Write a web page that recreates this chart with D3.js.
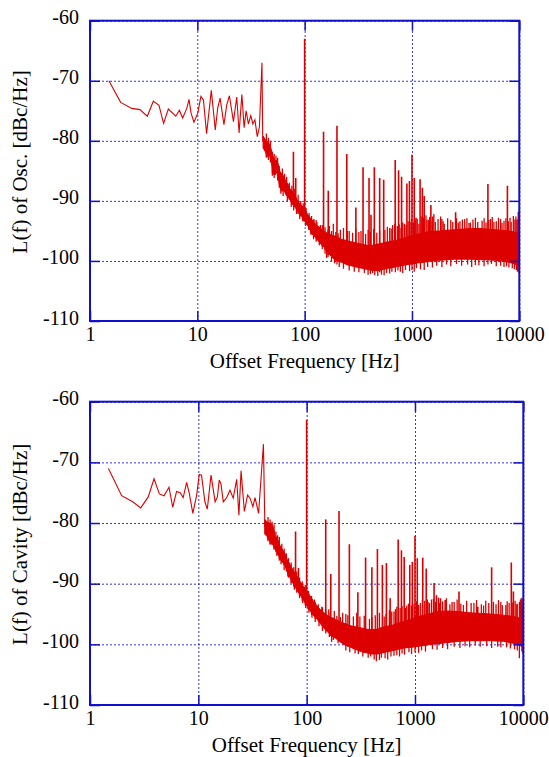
<!DOCTYPE html>
<html>
<head>
<meta charset="utf-8">
<script src="https://cdn.jsdelivr.net/npm/d3@7"></script>
<style>
  body { margin: 0; background: #fff; }
  text { font-family: "Liberation Serif", "Times New Roman", serif; fill: #000; }
</style>
</head>
<body>
<svg id="chart" width="549" height="757"></svg>
<script>
// axis ticks
var xTicks = [1, 10, 100, 1000, 10000];
var yTicks = [-110, -100, -90, -80, -70, -60];

// ---- oscillator panel ----
// low offset part, read point by point
var oscLowFreq = [1.5, 1.93, 2.45, 2.92, 3.42, 3.89, 4.39, 4.85, 5.37, 6.3, 6.8, 7.3, 7.97, 8.37, 8.74, 9.3,
    10.1, 10.8, 11.4, 12.2, 13.5, 14.7, 15.5, 16.3, 17.7, 18.8, 19.9, 21.7, 23.3, 24.5, 26, 27.3, 28.5,
    29.9, 31.5, 32.9, 34.4, 36.2, 37.9, 40, 40.7];
var oscLowLevel = [-70, -73.6, -74.6, -74.8, -75.9, -73.4, -74.1, -77.1, -74.7, -75.9, -74.9, -76.2, -74.6, -73.1, -75.4, -76.9,
    -75.4, -72.6, -73.2, -78.8, -71.6, -78.2, -74.5, -72.9, -77.3, -74, -72.5, -76.8, -72.7, -78.7, -72.3, -77.8, -75,
    -77.2, -75.8, -77.2, -76.5, -79.3, -77.7, -67, -79.8];
// noise floor: [freq, upper, lower]
var oscBand = [
    [41, -79.2, -81.2], [43, -79.8, -81.8], [45, -80.2, -82.6], [47, -80.5, -82.4], [49, -81.5, -83.6],
    [51, -82.7, -85.4], [53, -83.4, -85.7], [55, -83.2, -85.2], [57, -84, -86.5], [59, -85.2, -87.8],
    [61, -85.4, -88.4], [64, -86, -88.2], [67, -86.8, -89], [70, -87.2, -89.4], [73, -88, -89.8],
    [77, -88.4, -90.6], [81, -89, -91], [85, -89.8, -91.6], [89, -90.3, -92.2], [94, -90.8, -92.6],
    [100, -91.3, -93.4], [106, -92.2, -94], [112, -92.8, -94.8], [118, -93.2, -95.6], [125, -93.8, -96],
    [133, -94.2, -96.6], [141, -94.6, -97.2], [150, -95, -97.6], [160, -95.3, -98.2], [172, -95.6, -99],
    [185, -95.8, -99.6], [200, -96, -100], [220, -96.4, -100.2], [245, -96.6, -100.6], [270, -96.8, -100.8],
    [300, -97, -101], [340, -97.2, -101.2], [380, -97.4, -101.4], [430, -97.4, -101.6], [480, -97.2, -101.6],
    [540, -97, -101.4], [610, -96.8, -101.2], [700, -96.6, -101], [800, -96.3, -100.8], [900, -96, -100.6],
    [1000, -95.8, -100.5], [1150, -95.5, -100.3], [1300, -95.3, -100.2], [1500, -95.1, -100], [1800, -95, -99.9],
    [2100, -94.9, -99.8], [2500, -94.8, -99.7], [3000, -94.7, -99.7], [3600, -94.6, -99.7], [4300, -94.6, -99.8],
    [5000, -94.7, -99.8], [6000, -94.8, -99.9], [7000, -94.9, -100], [8000, -95, -100.2], [9000, -95.2, -100.5],
    [10000, -95.4, -100.8]
];
// spurs: [freq, peak]
var oscSpurs = [
    [78.6, -81.8], [82.6, -86.2], [100, -63], [150, -78.5], [166, -88.3], [200, -77.5], [247, -82.2],
    [300, -91.1], [350, -84.4], [398, -86.2], [415, -92.3], [446, -84.4], [500, -86.2], [545, -86.5],
    [698, -83.2], [750, -84.9], [800, -86], [897, -87.1], [947, -86.7], [1000, -82.3], [1050, -86.2],
    [1090, -92.8], [1190, -86.4], [1250, -87.8], [1300, -89.2], [1500, -90.7], [1560, -92.6], [2550, -91.9],
    [5100, -87.2], [7750, -87.5], [9800, -91.8]
];
// short noise spikes above the floor
var oscGrass = [
    [44, -78.8], [46, -79.5], [48, -80], [50, -81.8], [52, -82.2], [54, -82.5], [56, -82.8], [58, -84.2],
    [62, -84.6], [65, -85.5], [68, -86], [72, -87], [76, -87.5], [80, -88], [87, -89], [92, -90], [97, -90.4],
    [103, -91.2], [110, -92], [116, -92.5], [122, -93], [128, -93.2], [130, -93.5], [140, -94], [146, -94],
    [155, -94.4], [165, -94.8], [170, -94.2], [178, -95], [185, -93.8], [195, -95.2], [205, -95.4],
    [215, -94.8], [230, -94.5], [250, -95], [260, -95], [280, -95.3], [300, -94.6], [320, -95.2], [335, -95],
    [370, -95.5], [390, -94.8], [410, -95.2], [440, -94.7], [470, -95.3], [500, -94.9], [560, -94.8],
    [590, -94.3], [620, -94.5], [640, -94.6], [660, -94], [690, -93.8], [730, -94.2], [760, -93.9], [790, -94.5],
    [820, -93.6], [850, -93.8], [880, -94], [920, -93.4], [960, -93.5], [990, -93], [1030, -93.6], [1070, -93.2],
    [1120, -93], [1160, -93.8], [1220, -92.6], [1280, -92.8], [1350, -92.4], [1380, -93.1], [1420, -93.2],
    [1460, -92.7], [1540, -93.4], [1600, -92.2], [1650, -93.5], [1750, -93], [1850, -92.6], [1900, -93],
    [1950, -93.4], [2000, -93.8], [2150, -92.9], [2300, -93.2], [2400, -93.5], [2600, -92.9], [2700, -93.6],
    [2800, -93.4], [2950, -93.1], [3100, -93], [3250, -92.9], [3400, -93.7], [3500, -93.6], [3700, -93.1],
    [3900, -92.8], [4100, -93.5], [4500, -93.3], [4700, -92.9], [4900, -93.6], [5200, -93.2], [5400, -93],
    [5600, -92.7], [5800, -93.5], [6100, -93.4], [6400, -92.8], [6700, -93], [6900, -93.7], [7200, -93.3],
    [7500, -92.9], [7900, -93.4], [8200, -92.8], [8400, -93.5], [8800, -92.5], [9100, -93.1], [9300, -92.6],
    [9500, -93.2], [9700, -93]
];
// short noise spikes below the floor
var oscDips = [
    [44, -82.8], [46, -83.2], [50, -85.8], [52, -86.2], [56, -86.6], [60, -88.8], [63, -89.2], [69, -90],
    [75, -91], [79, -91.6], [84, -92.2], [90, -93], [96, -93.4], [102, -94.2], [109, -94.8], [114, -95.6],
    [121, -96.4], [128, -96.8], [137, -97.4], [146, -98], [155, -98.8], [160, -99.5], [165, -99.4], [178, -100],
    [190, -100.4], [200, -100.6], [210, -101], [230, -101.3], [260, -101.6], [290, -101.8], [320, -101.9],
    [360, -102], [390, -102.3], [410, -102.2], [430, -102], [450, -102.4], [480, -102.5], [500, -101.9],
    [520, -102.3], [550, -102.4], [580, -102], [620, -102.1], [650, -101.8], [700, -101.9], [740, -101.6],
    [780, -101.8], [820, -102], [870, -101.5], [950, -101.7], [1000, -101.5], [1050, -101.8], [1100, -101.2],
    [1200, -101.4], [1300, -101.5], [1400, -101], [1550, -101.1], [1700, -100.8], [1900, -101], [2100, -100.6],
    [2300, -100.9], [2600, -100.5], [2900, -100.8], [3300, -100.6], [3600, -101], [3900, -100.7], [4200, -100.7],
    [4700, -100.9], [5100, -100.6], [5500, -100.5], [6100, -100.9], [6700, -100.8], [7200, -101], [7600, -100.9],
    [8000, -101.1], [8600, -101.2], [9000, -101.4], [9400, -101.5], [9600, -101.8], [9900, -102]
];

// ---- cavity panel ----
var cavLowFreq = [1.48, 1.96, 2.48, 2.94, 3.45, 3.9, 4.37, 4.82, 5.36, 5.8, 6.3, 6.8, 7.25, 7.8, 8.25, 8.9, 9.65,
    10.2, 10.7, 11.5, 12.1, 13.1, 14.3, 15, 15.6, 16.2, 17, 18.3, 19.6, 21, 22.6, 23.7, 24.8, 26.6, 28.5, 30,
    31.9, 33.4, 36, 39.9, 41.1];
var cavLowLevel = [-71, -75.5, -76.5, -77.5, -75.7, -72.7, -75.2, -75.5, -74.1, -77.4, -74.8, -75, -75.8, -73.3, -75.1, -78.4, -75.4,
    -72, -72.1, -76.5, -77.7, -72.1, -76.5, -75.7, -72.9, -73.6, -76.5, -75.8, -74.6, -75.9, -72.8, -78.7, -71.4, -78.1, -75.4, -75.9,
    -77.3, -75.8, -78.4, -67, -80];
var cavBand = [
    [41, -79.4, -81.8], [43, -79.8, -82.2], [45, -80, -82.8], [47, -80.2, -83.4], [49, -80.6, -83.6],
    [51, -82, -84.2], [53, -82.4, -84.8], [55, -83, -85.3], [57, -83.8, -86], [60, -84.4, -86.5],
    [63, -85, -87], [66, -86, -88], [70, -86.8, -89], [74, -87.6, -89.8], [78, -88.3, -90.5],
    [83, -89, -91.3], [88, -89.8, -92], [94, -90.5, -92.8], [100, -91, -93.6], [107, -92, -94.4],
    [115, -92.8, -95.2], [124, -93.6, -95.8], [134, -94.3, -96.6], [145, -94.8, -97.4], [157, -95.3, -98],
    [170, -95.6, -98.6], [185, -95.9, -99], [200, -96.2, -99.5], [220, -96.5, -100], [250, -96.9, -100.4],
    [280, -97.1, -100.8], [320, -97.3, -101.2], [360, -97.5, -101.4], [400, -97.6, -101.6], [450, -97.5, -101.6],
    [500, -97.2, -101.4], [560, -97, -101.2], [630, -96.8, -101], [700, -96.5, -100.8], [800, -96.2, -100.6],
    [900, -95.9, -100.5], [1000, -95.6, -100.4], [1200, -95.2, -100.2], [1400, -94.9, -100], [1600, -94.6, -99.9],
    [2000, -94.5, -99.7], [2500, -94.6, -99.5], [3200, -94.8, -99.4], [4000, -94.9, -99.4], [5000, -95, -99.4],
    [6600, -95.2, -99.5], [8000, -95.4, -99.8], [9000, -95.6, -100], [10000, -95.8, -100.4]
];
var cavSpurs = [
    [79, -81.4], [84, -87.4], [100, -63], [150, -79.4], [167, -88.4], [199, -78], [248, -83.5], [297, -91.4],
    [350, -85.7], [400, -87.3], [450, -84.3], [500, -86.9], [545, -86.6], [590, -92.4], [700, -82.7],
    [750, -84.5], [795, -85.6], [895, -86.9], [945, -86.4], [1000, -82.1], [1050, -85.8], [1180, -85.7],
    [1270, -87.5], [1500, -89.9], [1580, -91.9], [1720, -92.4], [1900, -92.7], [2550, -91.3], [3800, -93.8],
    [5100, -87.3], [7750, -86.5], [8100, -91.3], [9600, -92.4], [9950, -92.3]
];
var cavGrass = [
    [44, -79], [46, -79.4], [48, -79.8], [50, -80.2], [52, -81.4], [54, -82], [56, -82.3], [59, -83.4],
    [62, -84.2], [65, -85], [68, -85.8], [72, -86.5], [76, -87.3], [81, -88], [86, -89], [91, -89.6],
    [97, -90.2], [104, -91.2], [111, -92], [118, -92.6], [120, -93], [128, -93.4], [138, -93.8], [140, -93.9],
    [150, -94.2], [160, -94.2], [165, -94.8], [180, -94.5], [190, -95.3], [205, -95.5], [215, -94.8],
    [230, -95], [240, -95.2], [270, -95.4], [290, -94.8], [310, -95.4], [340, -95.3], [380, -95.8], [400, -95.5],
    [430, -95.2], [470, -94.8], [520, -95.4], [540, -95], [580, -94.4], [610, -94.6], [640, -94.6], [660, -94.2],
    [680, -93.8], [730, -94], [760, -93.7], [820, -94], [840, -93.6], [870, -93.3], [930, -93.6], [980, -93.4],
    [1030, -92.9], [1080, -93.5], [1120, -93.2], [1170, -92.7], [1230, -92.8], [1300, -92.6], [1320, -93],
    [1360, -93.2], [1420, -92.6], [1480, -92.5], [1550, -93], [1650, -92.3], [1680, -93.2], [1800, -92.9],
    [1950, -92.4], [2100, -93.4], [2200, -93], [2300, -93], [2450, -92.6], [2650, -93.3], [2800, -93.5],
    [3000, -92.8], [3300, -93.2], [3500, -93.2], [3700, -92.7], [4100, -93.4], [4300, -93.6], [4500, -92.8],
    [4800, -93.2], [5300, -93], [5600, -93.4], [5900, -92.7], [6200, -93], [6400, -93.5], [6900, -93.5],
    [7100, -92.9], [7400, -93.2], [7900, -93.1], [8400, -92.8], [8600, -93.4], [8800, -93.3], [9200, -93],
    [9400, -92.6], [9800, -93]
];
var cavDips = [
    [44, -83], [46, -83.6], [50, -84.4], [53, -85.4], [56, -86.2], [58, -86.8], [62, -87.8], [67, -88.8],
    [72, -90], [77, -91], [81, -91.5], [86, -92.4], [92, -93.2], [98, -94], [105, -94.8], [112, -95.6],
    [120, -96.3], [130, -97], [140, -97.8], [150, -98.2], [162, -98.8], [170, -99.6], [176, -99.3], [195, -99.8],
    [230, -101], [250, -101.3], [280, -101.5], [300, -101.6], [330, -102], [370, -102.2], [390, -102],
    [420, -102.5], [440, -102.8], [470, -102.6], [490, -102.2], [530, -102.3], [560, -102.5], [600, -102],
    [640, -101.9], [680, -101.8], [720, -102], [760, -101.5], [800, -101.7], [880, -101.3], [930, -101.6],
    [1000, -101.3], [1080, -101.4], [1150, -101], [1250, -101.2], [1450, -100.8], [1600, -100.9], [1800, -100.6],
    [2000, -100.8], [2300, -100.4], [2600, -100.6], [2900, -100.3], [3200, -100.5], [3600, -100.2], [4000, -100.4],
    [4600, -100.3], [5100, -100.6], [5800, -100.4], [6200, -100.5], [7000, -100.5], [7600, -100.7], [8300, -100.8],
    [8800, -101], [9200, -102.3], [9700, -101.2], [9900, -101.5]
];

var RED = "#dd0000", BLUE = "#1010cc";

var svg = d3.select("#chart");
svg.append("rect").attr("width", 549).attr("height", 757).attr("fill", "#fff");

drawPanel({
    left: 90, right: 519.3, top: 20.7, bottom: 321,
    lowF: oscLowFreq, lowL: oscLowLevel, band: oscBand,
    spurs: oscSpurs, grass: oscGrass, dips: oscDips,
    ylabel: "L(f) of Osc. [dBc/Hz]"
});
drawPanel({
    left: 90, right: 523.3, top: 401.7, bottom: 705,
    lowF: cavLowFreq, lowL: cavLowLevel, band: cavBand,
    spurs: cavSpurs, grass: cavGrass, dips: cavDips,
    ylabel: "L(f) of Cavity [dBc/Hz]"
});

function drawPanel(p) {
    var w = p.right - p.left, h = p.bottom - p.top;
    var x = d3.scaleLog().domain([1, 10000]).range([0, w]);
    var y = d3.scaleLinear().domain([-110, -60]).range([h, 0]);

    var g = svg.append("g").attr("transform", "translate(" + p.left + "," + p.top + ")");

    // dotted grid
    var gx = g.append("g").attr("transform", "translate(0," + h + ")")
        .call(d3.axisBottom(x).tickValues(xTicks).tickSize(-h).tickFormat(""));
    var gy = g.append("g")
        .call(d3.axisLeft(y).tickValues(yTicks).tickSize(-w).tickFormat(""));
    [gx, gy].forEach(function (a) {
        a.select(".domain").remove();
        a.selectAll("line").attr("stroke", BLUE).attr("stroke-width", 1)
            .attr("stroke-dasharray", "2,2").attr("opacity", 0.85);
    });

    // data
    var clip = "clip" + Math.round(p.top);
    g.append("clipPath").attr("id", clip).append("rect").attr("width", w).attr("height", h);
    var data = g.append("g").attr("clip-path", "url(#" + clip + ")");

    var area = d3.area()
        .x(function (d) { return x(d[0]); })
        .y0(function (d) { return y(d[2]); })
        .y1(function (d) { return y(d[1]); });
    data.append("path").datum(p.band).attr("d", area)
        .attr("fill", RED).attr("stroke", RED).attr("stroke-width", 1).attr("stroke-linejoin", "round");

    var line = d3.line()
        .x(function (d) { return x(d[0]); })
        .y(function (d) { return y(d[1]); });
    var low = p.lowF.map(function (f, i) { return [f, p.lowL[i]]; });
    low.push([p.band[0][0], (p.band[0][1] + p.band[0][2]) / 2]);
    data.append("path").datum(low).attr("d", line)
        .attr("fill", "none").attr("stroke", RED).attr("stroke-width", 1.1);

    var bis = d3.bisector(function (d) { return d[0]; }).left;
    function nearest(f) {
        var i = Math.min(p.band.length - 1, bis(p.band, f));
        if (i > 0 && (Math.log(f) - Math.log(p.band[i - 1][0])) < (Math.log(p.band[i][0]) - Math.log(f))) i--;
        return p.band[i];
    }
    function ticks(list, upward, width) {
        data.selectAll(null).data(list).enter().append("path")
            .attr("d", function (d) {
                var b = nearest(d[0]);
                return line([[d[0], d[1]], [d[0], upward ? b[2] : b[1]]]);
            })
            .attr("stroke", RED).attr("stroke-width", width).attr("fill", "none");
    }
    ticks(p.grass, true, 1.3);
    ticks(p.dips, false, 1.3);
    ticks(p.spurs, true, 1.6);

    // inward ticks on every side
    var tl = 10;
    var ib = g.append("g").attr("transform", "translate(0," + h + ")")
        .call(d3.axisBottom(x).tickValues(xTicks).tickSize(-tl).tickFormat(""));
    var it = g.append("g").call(d3.axisTop(x).tickValues(xTicks).tickSize(-tl).tickFormat(""));
    var il = g.append("g").call(d3.axisLeft(y).tickValues(yTicks).tickSize(-tl).tickFormat(""));
    var ir = g.append("g").attr("transform", "translate(" + w + ",0)")
        .call(d3.axisRight(y).tickValues(yTicks).tickSize(-tl).tickFormat(""));
    [ib, it, il, ir].forEach(function (a) {
        a.select(".domain").remove();
        a.selectAll("line").attr("stroke", BLUE).attr("stroke-width", 1.5);
    });

    // frame
    g.append("rect").attr("width", w).attr("height", h)
        .attr("fill", "none").attr("stroke", BLUE).attr("stroke-width", 2);

    // tick labels, plain hyphen for the minus sign
    var plain = function (d) { return String(d); };
    var lx = g.append("g").attr("transform", "translate(0," + h + ")")
        .call(d3.axisBottom(x).tickValues(xTicks).tickSize(0).tickPadding(6).tickFormat(plain));
    var ly = g.append("g")
        .call(d3.axisLeft(y).tickValues(yTicks).tickSize(0).tickPadding(11).tickFormat(plain));
    [lx, ly].forEach(function (a) {
        a.select(".domain").remove();
        a.selectAll("text").attr("font-family", "Liberation Serif").attr("font-size", 20).attr("fill", "#000");
    });
    ly.selectAll("text").attr("dy", "0.15em");

    // titles
    g.append("text").attr("x", w / 2).attr("y", h + 47)
        .attr("text-anchor", "middle").attr("font-size", 21)
        .text("Offset Frequency [Hz]");
    g.append("text")
        .attr("transform", "translate(" + (27 - p.left) + "," + (h / 2 - 9) + ") rotate(-90)")
        .attr("text-anchor", "middle").attr("font-size", 21)
        .text(p.ylabel);
}
</script>
</body>
</html>
